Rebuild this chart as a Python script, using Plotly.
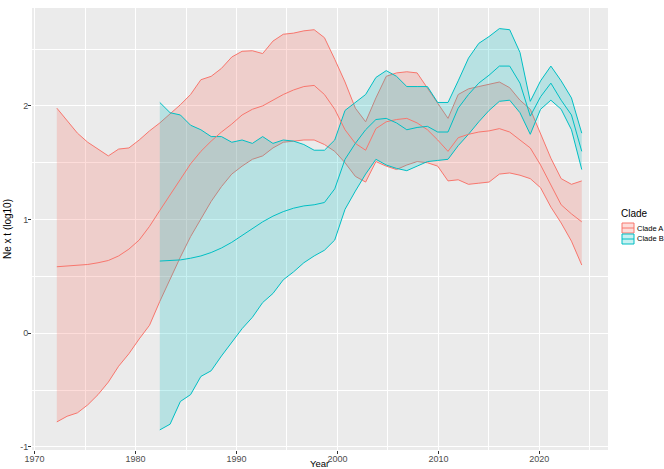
import plotly.graph_objects as go

# Common time grid (years); clade B starts at the 11th grid point
years = [1972.20, 1973.22, 1974.24, 1975.26, 1976.28, 1977.30, 1978.32, 1979.34,
         1980.36, 1981.38, 1982.40, 1983.42, 1984.44, 1985.45, 1986.47, 1987.49,
         1988.51, 1989.53, 1990.55, 1991.57, 1992.59, 1993.61, 1994.63, 1995.65,
         1996.67, 1997.69, 1998.71, 1999.73, 2000.75, 2001.77, 2002.79, 2003.81,
         2004.83, 2005.85, 2006.87, 2007.89, 2008.91, 2009.93, 2010.95, 2011.96,
         2012.98, 2014.00, 2015.02, 2016.04, 2017.06, 2018.08, 2019.10, 2020.12,
         2021.14, 2022.16, 2023.18, 2024.20]

years_a = years
years_b = years[10:]

# Clade A: log10(Ne x t) median and 95% interval
a_upper = [1.98, 1.87, 1.76, 1.68, 1.62, 1.56, 1.62, 1.63, 1.70, 1.78,
           1.85, 1.93, 2.01, 2.10, 2.23, 2.26, 2.33, 2.43, 2.48, 2.485,
           2.46, 2.57, 2.63, 2.64, 2.66, 2.67, 2.60, 2.41, 2.21, 1.98,
           1.86, 2.07, 2.26, 2.29, 2.30, 2.29, 2.16, 2.03, 1.89, 2.10,
           2.15, 2.17, 2.19, 2.21, 2.16, 2.05, 1.97, 1.76, 1.54, 1.36,
           1.31, 1.34]
a_median = [0.585, 0.59, 0.60, 0.605, 0.62, 0.64, 0.68, 0.74, 0.82, 0.94,
            1.08, 1.22, 1.36, 1.49, 1.60, 1.69, 1.77, 1.84, 1.92, 1.97,
            2.00, 2.05, 2.10, 2.14, 2.17, 2.18, 2.10, 1.97, 1.79, 1.67,
            1.61, 1.80, 1.86, 1.88, 1.89, 1.85, 1.79, 1.70, 1.60, 1.72,
            1.75, 1.77, 1.78, 1.80, 1.77, 1.70, 1.63, 1.48, 1.31, 1.13,
            1.05, 0.98]
a_lower = [-0.78, -0.73, -0.70, -0.63, -0.54, -0.43, -0.29, -0.18, -0.05, 0.07,
           0.28, 0.48, 0.67, 0.85, 1.01, 1.16, 1.29, 1.40, 1.47, 1.53,
           1.56, 1.63, 1.68, 1.69, 1.70, 1.70, 1.66, 1.60, 1.50, 1.38,
           1.33, 1.51, 1.47, 1.44, 1.48, 1.51, 1.50, 1.47, 1.34, 1.35,
           1.31, 1.32, 1.33, 1.40, 1.41, 1.39, 1.36, 1.28, 1.11, 0.97,
           0.81, 0.60]

# Clade B
b_upper = [2.03, 1.94, 1.92, 1.83, 1.79, 1.73, 1.73, 1.68, 1.70, 1.67,
           1.73, 1.67, 1.70, 1.69, 1.66, 1.61, 1.61, 1.70, 1.96, 2.03,
           2.10, 2.25, 2.31, 2.26, 2.17, 2.17, 2.17, 2.03, 2.03, 2.22,
           2.42, 2.55, 2.61, 2.68, 2.67, 2.47, 2.04, 2.22, 2.35, 2.22,
           2.07, 1.76]
b_median = [0.635, 0.64, 0.645, 0.66, 0.68, 0.71, 0.75, 0.80, 0.86, 0.92,
            0.98, 1.03, 1.07, 1.10, 1.12, 1.13, 1.15, 1.27, 1.53, 1.67,
            1.79, 1.88, 1.89, 1.85, 1.79, 1.81, 1.82, 1.77, 1.77, 1.98,
            2.10, 2.20, 2.27, 2.35, 2.35, 2.20, 1.91, 2.08, 2.20, 2.05,
            1.92, 1.60]
b_lower = [-0.85, -0.80, -0.60, -0.54, -0.38, -0.33, -0.20, -0.08, 0.04, 0.14,
           0.27, 0.35, 0.47, 0.54, 0.62, 0.68, 0.73, 0.82, 1.09, 1.25,
           1.40, 1.53, 1.48, 1.45, 1.43, 1.47, 1.51, 1.52, 1.53, 1.65,
           1.75, 1.86, 1.96, 2.04, 2.05, 1.94, 1.75, 1.97, 2.05, 1.97,
           1.79, 1.44]

x_ticks = [1970, 1980, 1990, 2000, 2010, 2020]
y_ticks = [-1, 0, 1, 2]

clade_names = ["Clade A", "Clade B"]
line_colors = ["#F8766D", "#00BFC4"]
fill_colors = ["rgba(248,118,109,0.25)", "rgba(0,191,196,0.22)"]

series = [
    (years_a, a_lower, a_median, a_upper),
    (years_b, b_lower, b_median, b_upper),
]

FONT = "Liberation Sans, Arial, sans-serif"

fig = go.Figure()
for name, col, fillcol, (xs, lo, med, hi) in zip(clade_names, line_colors, fill_colors, series):
    fig.add_trace(go.Scatter(x=xs, y=lo, mode="lines", line=dict(color=col, width=1),
                             showlegend=False, hoverinfo="skip"))
    fig.add_trace(go.Scatter(x=xs, y=hi, mode="lines", line=dict(color=col, width=1),
                             fill="tonexty", fillcolor=fillcol, name=name, showlegend=False))
for name, col, fillcol, (xs, lo, med, hi) in zip(clade_names, line_colors, fill_colors, series):
    fig.add_trace(go.Scatter(x=xs, y=med, mode="lines", line=dict(color=col, width=1),
                             name=name, showlegend=False))

axis_common = dict(
    showgrid=True, gridcolor="white", gridwidth=1.4,
    zeroline=False, showline=False, automargin=False,
    ticks="outside", ticklen=3, tickwidth=1, tickcolor="#333333",
    tickfont=dict(family=FONT, size=9, color="#4D4D4D"),
)

fig.update_layout(
    width=664, height=469,
    margin=dict(l=32, r=56, t=8, b=19, autoexpand=False),
    paper_bgcolor="white", plot_bgcolor="#EBEBEB",
    font=dict(family=FONT, color="black"),
    xaxis=dict(range=[1969.74, 2026.8], tickvals=x_ticks,
               ticktext=[str(v) for v in x_ticks], ticklabelstandoff=-3,
               minor=dict(dtick=5, tick0=1965, showgrid=True, gridcolor="white", gridwidth=0.6, ticks=""),
               **axis_common),
    yaxis=dict(range=[-1.027, 2.861], tickvals=y_ticks,
               ticktext=[str(v) for v in y_ticks], ticklabelstandoff=-2,
               minor=dict(dtick=0.5, tick0=-1.5, showgrid=True, gridcolor="white", gridwidth=0.6, ticks=""),
               title=dict(text="Ne x t (log10)", font=dict(size=10), standoff=6),
               **axis_common),
    showlegend=False,
)

# Pixel helpers for placing the axis title and legend around the panel
panel_l, panel_r, panel_t, panel_b = 32, 608, 8, 450


def px_x(p):
    return (p - panel_l) / (panel_r - panel_l)


def px_y(p):
    return (panel_b - p) / (panel_b - panel_t)


# x-axis title sits low, just above the page edge
fig.add_annotation(x=px_x(319), y=px_y(463.5), xref="paper", yref="paper", text="Year",
                   showarrow=False, xanchor="center", yanchor="middle",
                   font=dict(family=FONT, size=9.5, color="black"))

# Legend: keys (filled box with outline and centre line) plus labels
fig.add_annotation(x=px_x(619), y=px_y(213), xref="paper", yref="paper", text="Clade",
                   showarrow=False, xanchor="left", yanchor="middle",
                   font=dict(family=FONT, size=10, color="black"))
key_tops = [223, 234]
for name, col, fillcol, top in zip(clade_names, line_colors, fill_colors, key_tops):
    fig.add_shape(type="rect", xref="paper", yref="paper",
                  x0=px_x(622), x1=px_x(634), y0=px_y(top + 10), y1=px_y(top),
                  fillcolor=fillcol, line=dict(color=col, width=1), layer="above")
    fig.add_shape(type="line", xref="paper", yref="paper",
                  x0=px_x(622), x1=px_x(634), y0=px_y(top + 5), y1=px_y(top + 5),
                  line=dict(color=col, width=1), layer="above")
    fig.add_annotation(x=px_x(635), y=px_y(top + 5), xref="paper", yref="paper", text=name,
                       showarrow=False, xanchor="left", yanchor="middle",
                       font=dict(family=FONT, size=7.5, color="black"))

fig.write_html("out.html")
